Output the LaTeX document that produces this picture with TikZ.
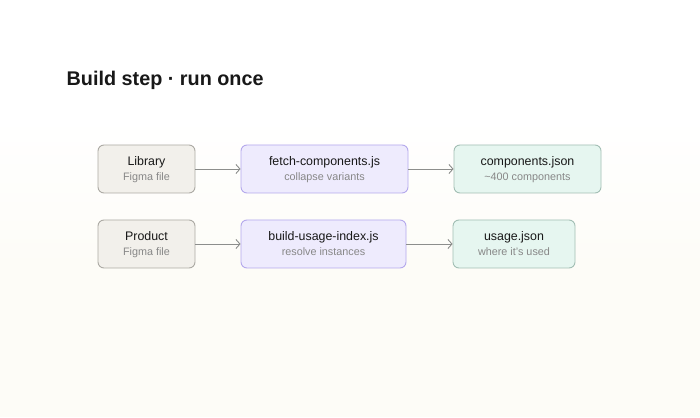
\documentclass[tikz,border=0pt]{standalone}
\usepackage{fontspec}
\setmainfont{Liberation Sans}
\usetikzlibrary{arrows.meta}
\definecolor{maintxt}{RGB}{24,24,24}
\definecolor{subtxt}{RGB}{135,135,135}
\definecolor{grayfill}{RGB}{242,240,235}
\definecolor{graydraw}{RGB}{172,170,164}
\definecolor{purfill}{RGB}{238,235,253}
\definecolor{purdraw}{RGB}{180,168,236}
\definecolor{grnfill}{RGB}{230,246,240}
\definecolor{grndraw}{RGB}{162,190,180}
\definecolor{arrowc}{RGB}{140,142,140}
\definecolor{bgbottom}{RGB}{253,252,247}
\tikzset{
  x=1pt,y=1pt,
  box/.style={rounded corners=6pt, line width=0.9pt, minimum height=48pt, inner sep=0pt},
  srcbox/.style={box, fill=grayfill, draw=graydraw},
  procbox/.style={box, fill=purfill, draw=purdraw},
  outbox/.style={box, fill=grnfill, draw=grndraw},
  maintext/.style={anchor=base, inner sep=0pt, text=maintxt, font=\fontsize{12.4}{14}\selectfont},
  subtext/.style={anchor=base, inner sep=0pt, text=subtxt, font=\fontsize{10.8}{12}\selectfont},
  flow/.style={draw=arrowc, line width=0.9pt, -{Straight Barb[length=4pt,width=9pt,line width=0.9pt]}},
}
\begin{document}
\begin{tikzpicture}
\useasboundingbox (0,0) rectangle (700,417);
\fill[bgbottom] (0,0) rectangle (700,150);
\shade[top color=white, bottom color=bgbottom] (0,150) rectangle (700,300);
\fill[white] (0,300) rectangle (700,417);

\node[anchor=base west, inner sep=0pt, text=maintxt, font=\fontsize{19.8}{22}\selectfont\bfseries] (title) at (66.5,331.5) {Build step · run once};

% row 1
\node[srcbox, minimum width=97pt] (lib) at (146.5,248) {};
\node[procbox, minimum width=167pt] (fetch) at (324.5,248) {};
\node[outbox, minimum width=147pt] (comp) at (527.5,248) {};
% row 2
\node[srcbox, minimum width=97pt] (prod) at (146.5,173) {};
\node[procbox, minimum width=165pt] (build) at (323.5,173) {};
\node[outbox, minimum width=122pt] (usage) at (514,173) {};

\foreach \n/\a/\b in {lib/Library/Figma file, fetch/fetch-components.js/collapse variants, comp/components.json/\textasciitilde 400 components, prod/Product/Figma file, build/build-usage-index.js/resolve instances, usage/usage.json/where it's used}{
  \node[maintext] (\n-m) at ([yshift=3pt]\n.center) {\a};
  \node[subtext] (\n-s) at ([yshift=-12pt]\n.center) {\b};
}

\draw[flow] (lib) -- (fetch);
\draw[flow] (fetch) -- (comp);
\draw[flow] (prod) -- (build);
\draw[flow] (build) -- (usage);
\end{tikzpicture}
\end{document}
